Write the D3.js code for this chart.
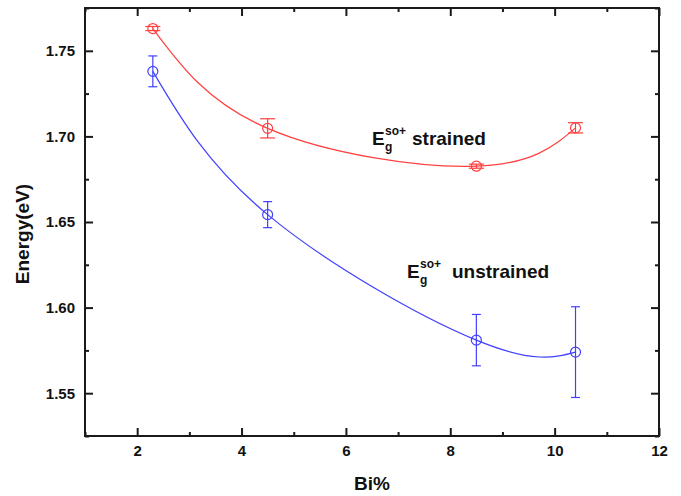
<!DOCTYPE html>
<html>
<head>
<meta charset="utf-8">
<script src="https://cdn.jsdelivr.net/npm/d3@7"></script>
<style>
  body { margin: 0; background: #fff; }
  svg text { font-family: "Liberation Sans", Arial, sans-serif; font-weight: bold; }
</style>
</head>
<body>
<div id="chart"></div>
<script>
// Bi content (%)
var bi = [2.3, 4.5, 8.5, 10.4];

// strained E_g^so+ (eV) and error
var strained = [1.763, 1.7047, 1.6826, 1.705];
var strainedErr = [0.0012, 0.0056, 0.0012, 0.003];

// unstrained E_g^so+ (eV) and error
var unstrained = [1.738, 1.6543, 1.581, 1.574];
var unstrainedErr = [0.009, 0.0076, 0.015, 0.0265];

var xMajor = [2, 4, 6, 8, 10, 12];
var xMinor = [1, 3, 5, 7, 9, 11];
var yMajor = [1.55, 1.60, 1.65, 1.70, 1.75];
var yMinor = [1.525, 1.575, 1.625, 1.675, 1.725, 1.775];

var w = 681, h = 496;
var margin = { left: 85, right: 22, top: 8, bottom: 60 };

var svg = d3.select("#chart").append("svg")
  .attr("width", w)
  .attr("height", h);

var x = d3.scaleLinear()
  .domain([1, 12])
  .range([margin.left, w - margin.right]);

var y = d3.scaleLinear()
  .domain([1.525, 1.775])
  .range([h - margin.bottom, margin.top]);

var x0 = x.range()[0], x1 = x.range()[1];
var y0 = y.range()[0], y1 = y.range()[1];

// axes, ticks pointing inward
function drawAxis(axis, tx, ty, values, size, labels) {
  var g = svg.append("g")
    .attr("transform", "translate(" + tx + "," + ty + ")")
    .call(axis.tickValues(values).tickSize(-size).tickSizeOuter(0));
  g.select(".domain").remove();
  g.selectAll(".tick line").attr("stroke", "#1a1a1a").attr("stroke-width", 2);
  g.selectAll("text").attr("font-size", 15).attr("fill", "#111");
  if (!labels) g.selectAll("text").remove();
  return g;
}

drawAxis(d3.axisBottom(x).tickPadding(9), 0, y0, xMajor, 8, true);
drawAxis(d3.axisBottom(x), 0, y0, xMinor, 4, false);
drawAxis(d3.axisTop(x), 0, y1, xMajor, 8, false);
drawAxis(d3.axisTop(x), 0, y1, xMinor, 4, false);

drawAxis(d3.axisLeft(y).tickPadding(10).tickFormat(d3.format(".2f")), x0, 0, yMajor, 8, true);
drawAxis(d3.axisLeft(y), x0, 0, yMinor, 4, false);
drawAxis(d3.axisRight(y), x1, 0, yMajor, 8, false);
drawAxis(d3.axisRight(y), x1, 0, yMinor, 4, false);

// frame
svg.append("rect")
  .attr("x", x0).attr("y", y1)
  .attr("width", x1 - x0).attr("height", y0 - y1)
  .attr("fill", "none")
  .attr("stroke", "#1a1a1a")
  .attr("stroke-width", 2);

// axis titles
svg.append("text")
  .attr("x", (x0 + x1) / 2 - 0)
  .attr("y", 490)
  .attr("text-anchor", "middle")
  .attr("font-size", 19)
  .attr("fill", "#111")
  .text("Bi%");

svg.append("text")
  .attr("transform", "translate(29,234) rotate(-90)")
  .attr("text-anchor", "middle")
  .attr("font-size", 19)
  .attr("fill", "#111")
  .text("Energy(eV)");

var line = d3.line()
  .x(function(d) { return x(d[0]); })
  .y(function(d) { return y(d[1]); })
  .curve(d3.curveNatural);

function drawSeries(vals, errs, color, capW) {
  var pts = bi.map(function(b, i) { return [b, vals[i], errs[i]]; });
  var g = svg.append("g");

  g.append("path")
    .datum(pts)
    .attr("d", line)
    .attr("fill", "none")
    .attr("stroke", color)
    .attr("stroke-width", 1.2);

  var e = g.selectAll(".err")
    .data(pts)
    .enter()
    .append("g")
    .attr("stroke", color)
    .attr("stroke-width", 1.2)
    .attr("fill", "none");

  e.append("line")
    .attr("x1", function(d) { return x(d[0]); })
    .attr("x2", function(d) { return x(d[0]); })
    .attr("y1", function(d) { return y(d[1] + d[2]); })
    .attr("y2", function(d) { return y(d[1] - d[2]); });
  e.append("line")
    .attr("x1", function(d) { return x(d[0]) - capW / 2; })
    .attr("x2", function(d) { return x(d[0]) + capW / 2; })
    .attr("y1", function(d) { return y(d[1] + d[2]); })
    .attr("y2", function(d) { return y(d[1] + d[2]); });
  e.append("line")
    .attr("x1", function(d) { return x(d[0]) - capW / 2; })
    .attr("x2", function(d) { return x(d[0]) + capW / 2; })
    .attr("y1", function(d) { return y(d[1] - d[2]); })
    .attr("y2", function(d) { return y(d[1] - d[2]); });
  e.append("circle")
    .attr("cx", function(d) { return x(d[0]); })
    .attr("cy", function(d) { return y(d[1]); })
    .attr("r", 5)
    .attr("fill", "none");
}

drawSeries(strained, strainedErr, "#ff4040", 15);
drawSeries(unstrained, unstrainedErr, "#4040ff", 9);

// labels
function label(xp, yp, word) {
  var g = svg.append("g").attr("fill", "#111");
  g.append("text").attr("x", xp).attr("y", yp).attr("font-size", 19).text("E");
  g.append("text").attr("x", xp + 13).attr("y", yp - 10).attr("font-size", 12).text("so+");
  g.append("text").attr("x", xp + 13).attr("y", yp + 6).attr("font-size", 12).text("g");
  g.append("text").attr("x", xp + word.dx).attr("y", yp).attr("font-size", 19).text(word.t);
}

label(372, 145, { t: "strained", dx: 40 });
label(407, 278, { t: "unstrained", dx: 45 });
</script>
</body>
</html>
